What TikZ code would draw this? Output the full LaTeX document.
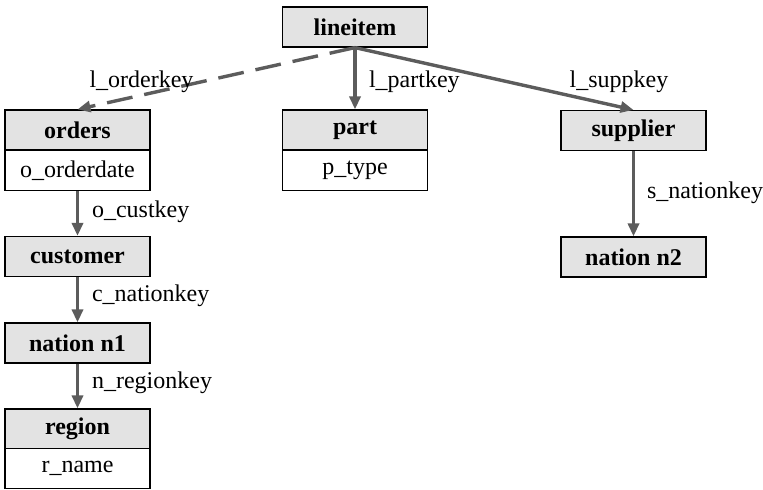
\documentclass[tikz,border=0pt]{standalone}
\usepackage{fontspec}
\setmainfont{Liberation Serif}
\usepackage{tikz}
\usetikzlibrary{arrows.meta}

\tikzset{
  tabhead/.style={draw, line width=0.6pt, fill=black!11,
    font=\fontsize{12}{14}\selectfont\bfseries,
    minimum width=72.5pt, minimum height=20pt, inner sep=0pt},
  tabattr/.style={draw, line width=0.6pt, fill=white,
    minimum width=72.5pt, minimum height=20pt, inner sep=0pt},
  fk/.style={draw=black!64, line width=1.7pt, -{Triangle[length=6.5pt,width=5.5pt]}},
}

\begin{document}
\begin{tikzpicture}[x=0.5pt, y=-0.5pt, font=\fontsize{12}{14}\selectfont]
  \useasboundingbox (0,0) rectangle (763,489);
  % tables
  \node [tabhead] (lineitem) at (355,27) {lineitem};
  \node [tabhead] (orders) at (77.5,130) {orders};
  \node [tabattr] (ordersA) at (77.5,170.5) {o\_orderdate};
  \node [tabhead] (part) at (355,130) {part};
  \node [tabattr] (partA) at (355,170.5) {p\_type};
  \node [tabhead] (supplier) at (633.5,130.5) {supplier};
  \node [tabhead] (nationtwo) at (633.5,257) {nation n2};
  \node [tabhead] (customer) at (77.5,256.5) {customer};
  \node [tabhead] (nationone) at (77.5,343) {nation n1};
  \node [tabhead] (region) at (77.5,429) {region};
  \node [tabattr] (regionA) at (77.5,468.5) {r\_name};
  % joins
  \draw [fk, dash pattern=on 13pt off 6pt] (lineitem.south) -- (orders.north);
  \draw [fk] (lineitem.south) -- (part.north);
  \draw [fk] (lineitem.south) -- (supplier.north);
  \draw [fk] (ordersA.south) -- (customer.north);
  \draw [fk] (customer.south) -- (nationone.north);
  \draw [fk] (nationone.south) -- (region.north);
  \draw [fk] (supplier.south) -- (nationtwo.north);
  % keys
  \node (korder) at (141.5,82) {l\_orderkey};
  \node [anchor=west] (kpart) at (362,82) {l\_partkey};
  \node (ksupp) at (619,82) {l\_suppkey};
  \node [anchor=west] (kcust) at (85,212) {o\_custkey};
  \node [anchor=west] (kcnat) at (85,296) {c\_nationkey};
  \node [anchor=west] (kreg) at (85,383) {n\_regionkey};
  \node [anchor=west] (ksnat) at (640,193) {s\_nationkey};
\end{tikzpicture}
\end{document}
